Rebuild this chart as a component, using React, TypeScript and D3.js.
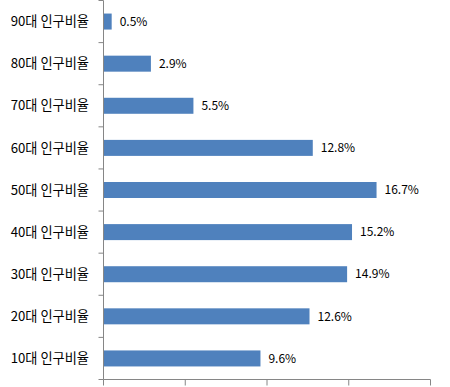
import React from "react";
import * as d3 from "d3";

const categories = ["90대 인구비율", "80대 인구비율", "70대 인구비율", "60대 인구비율", "50대 인구비율", "40대 인구비율", "30대 인구비율", "20대 인구비율", "10대 인구비율"];
const values = [0.5, 2.9, 5.5, 12.8, 16.7, 15.2, 14.9, 12.6, 9.6];
const xTicks = [0, 5, 10, 15, 20];

const W = 450, H = 387;
const left = 103.5, right = 430.5, top = 0.5, bottom = 379.5;
const font = "'Noto Sans CJK KR', 'Noto Sans', sans-serif";

export default function App() {
  const x = d3.scaleLinear().domain([0, 20]).range([left, right]);
  const y = d3.scaleBand<string>().domain(categories).range([top, bottom]).paddingInner(0.62).paddingOuter(0.31);
  const step = y.step();
  const axisColor = "#868686";
  return (
    <svg width={W} height={H} style={{ position: "absolute", left: 0, top: 0, background: "#fff" }} fontFamily={font}>
      {categories.map((c, i) => (
        <rect key={c} x={x(0)} y={y(c)!} width={x(values[i]) - x(0)} height={y.bandwidth()} fill="#4F81BD" />
      ))}
      <line x1={left} x2={left} y1={top} y2={bottom} stroke={axisColor} />
      {d3.range(categories.length + 1).map((i) => (
        <line key={"yt" + i} x1={left - 5} x2={left} y1={top + i * step} y2={top + i * step} stroke={axisColor} />
      ))}
      <line x1={left} x2={right} y1={bottom} y2={bottom} stroke={axisColor} />
      {xTicks.map((t) => (
        <line key={"xt" + t} x1={x(t)} x2={x(t)} y1={bottom} y2={bottom + 6} stroke={axisColor} />
      ))}
      {categories.map((c) => (
        <text key={"l" + c} x={89} y={y(c)! + y.bandwidth() / 2} dy="0.35em" textAnchor="end" fontSize={13.2} fill="#000">
          {c}
        </text>
      ))}
      {categories.map((c, i) => (
        <text key={"v" + c} x={x(values[i]) + 8} y={y(c)! + y.bandwidth() / 2} dy="0.35em" textAnchor="start" fontSize={12} fill="#000">
          {values[i].toFixed(1) + "%"}
        </text>
      ))}
    </svg>
  );
}
